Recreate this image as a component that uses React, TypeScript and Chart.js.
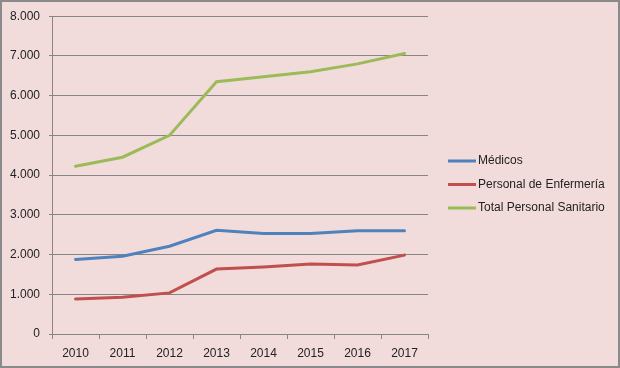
import React, { useEffect, useRef } from "react";
import { Chart, registerables } from "chart.js";

Chart.register(...registerables);

const years = ["2010", "2011", "2012", "2013", "2014", "2015", "2016", "2017"];
const medicos = [1875, 1960, 2210, 2610, 2530, 2530, 2600, 2600];
const enfermeria = [880, 925, 1035, 1635, 1685, 1760, 1735, 1985];
const totalSanitario = [4225, 4450, 5000, 6350, 6475, 6600, 6800, 7060];
const seriesLabels = ["Médicos", "Personal de Enfermería", "Total Personal Sanitario"];
const seriesColors = ["#4F81BD", "#C0504D", "#9BBB59"];

const fmt = (v: number) => String(v).replace(/\B(?=(\d{3})+(?!\d))/g, ".");

const FONT = "'Liberation Sans', Arial, sans-serif";

const bgPlugin = {
  id: "bgBorder",
  beforeDraw(chart: any) {
    const { ctx, width, height } = chart;
    ctx.save();
    ctx.fillStyle = "#F2DCDB";
    ctx.fillRect(0, 0, width, height);
    ctx.restore();
  },
  afterDraw(chart: any) {
    const { ctx, width, height } = chart;
    ctx.save();
    // legend
    chart.data.datasets.forEach((ds: any, i: number) => {
      const y = 161 + i * 23.5;
      ctx.strokeStyle = ds.borderColor;
      ctx.lineWidth = 3;
      ctx.beginPath();
      ctx.moveTo(448, y);
      ctx.lineTo(476, y);
      ctx.stroke();
      ctx.fillStyle = "#222";
      ctx.font = `12px ${FONT}`;
      ctx.textBaseline = "middle";
      ctx.textAlign = "left";
      ctx.fillText(ds.label, 478, y);
    });
    ctx.strokeStyle = "#8a8a8a";
    ctx.lineWidth = 2;
    ctx.strokeRect(1, 1, width - 2, height - 2);
    ctx.restore();
  },
};

export default function App() {
  const ref = useRef<HTMLCanvasElement>(null);
  useEffect(() => {
    document.body.style.margin = "0";
    const chart = new Chart(ref.current!, {
      type: "line",
      data: {
        labels: years,
        datasets: [medicos, enfermeria, totalSanitario].map((d, i) => ({
          label: seriesLabels[i],
          data: d,
          borderColor: seriesColors[i],
          backgroundColor: seriesColors[i],
          borderWidth: 3,
          pointRadius: 0,
          tension: 0,
          borderCapStyle: "round" as const,
        })),
      },
      options: {
        animation: false,
        responsive: false,
        maintainAspectRatio: false,
        layout: { padding: { top: 14, left: 0, right: 192, bottom: 0 } },
        plugins: { legend: { display: false }, tooltip: { enabled: false } },
        scales: {
          x: {
            offset: true,
            grid: {
              offset: true,
              drawOnChartArea: false,
              drawTicks: true,
              tickLength: 5,
              color: "#868686",
            },
            border: { color: "#868686", width: 1 },
            ticks: { color: "#222", font: { family: FONT, size: 12 }, padding: 7, maxRotation: 0 },
            afterFit(scale: any) {
              scale.height = 34;
            },
          },
          y: {
            min: 0,
            max: 8000,
            grid: { color: "#868686", lineWidth: 1, tickLength: 3 },
            border: { color: "#868686", width: 1 },
            ticks: {
              stepSize: 1000,
              color: "#222",
              font: { family: FONT, size: 12 },
              padding: 9,
              callback: (v: any) => fmt(Number(v)),
            },
            afterFit(scale: any) {
              scale.width = 52;
            },
          },
        },
      },
      plugins: [bgPlugin],
    });
    return () => chart.destroy();
  }, []);
  return (
    <div style={{ position: "absolute", left: 0, top: 0, width: 620, height: 368 }}>
      <canvas ref={ref} width={620} height={368} style={{ width: 620, height: 368, display: "block" }} />
    </div>
  );
}
